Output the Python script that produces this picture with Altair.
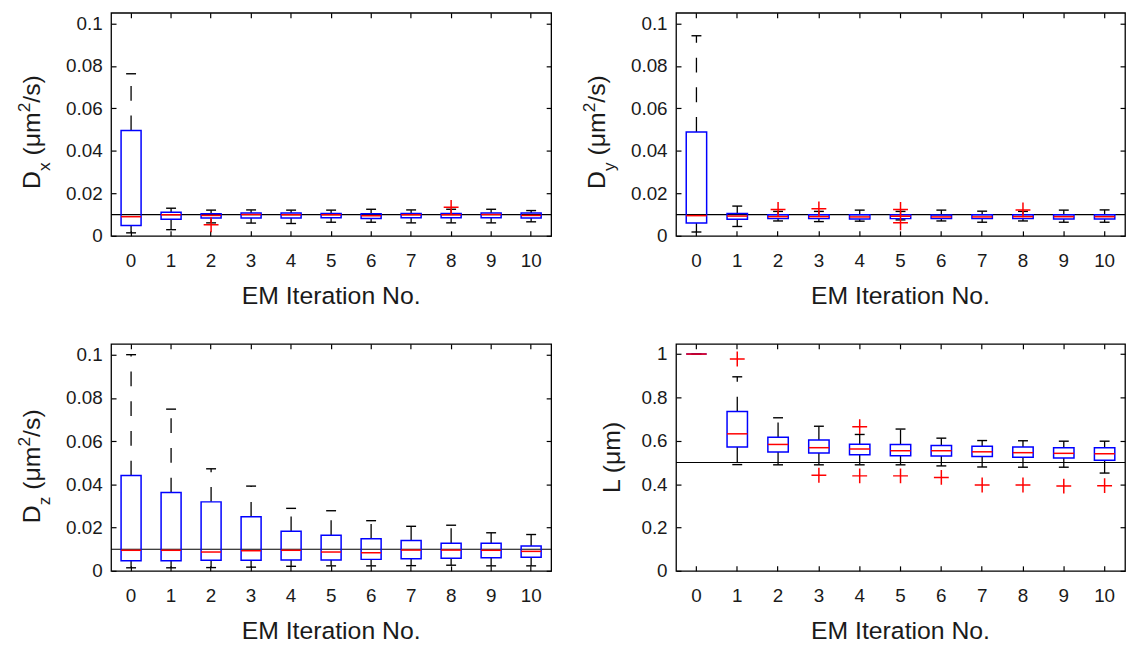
import altair as alt
import pandas as pd

# ---------------- data ----------------
iters = list(range(11))

dx_q1 = [0.0049, 0.0078, 0.0084, 0.0084, 0.0084, 0.0085, 0.0082, 0.0085, 0.0085, 0.0085, 0.0084]
dx_med = [0.0090, 0.0099, 0.0096, 0.0100, 0.0099, 0.0099, 0.0095, 0.0099, 0.0099, 0.0100, 0.0096]
dx_q3 = [0.0496, 0.0111, 0.0104, 0.0108, 0.0107, 0.0105, 0.0104, 0.0105, 0.0105, 0.0107, 0.0107]
dx_lo = [0.0014, 0.0029, 0.0061, 0.0060, 0.0058, 0.0064, 0.0064, 0.0061, 0.0061, 0.0061, 0.0066]
dx_hi = [0.0763, 0.0130, 0.0121, 0.0122, 0.0121, 0.0121, 0.0125, 0.0122, 0.0125, 0.0125, 0.0119]
dx_out_it = [2, 8]
dx_out_val = [0.0052, 0.0134]

dy_q1 = [0.0060, 0.0078, 0.0081, 0.0081, 0.0079, 0.0081, 0.0081, 0.0081, 0.0081, 0.0079, 0.0079]
dy_med = [0.0095, 0.0093, 0.0090, 0.0090, 0.0089, 0.0092, 0.0089, 0.0089, 0.0090, 0.0090, 0.0090]
dy_q3 = [0.0489, 0.0105, 0.0099, 0.0099, 0.0099, 0.0099, 0.0098, 0.0099, 0.0099, 0.0099, 0.0099]
dy_lo = [0.0018, 0.0044, 0.0070, 0.0067, 0.0069, 0.0075, 0.0070, 0.0064, 0.0070, 0.0064, 0.0064]
dy_hi = [0.0942, 0.0140, 0.0115, 0.0115, 0.0121, 0.0115, 0.0121, 0.0116, 0.0115, 0.0121, 0.0122]
dy_out_it = [2, 3, 5, 5, 8]
dy_out_val = [0.0124, 0.0127, 0.0124, 0.0061, 0.0122]

dz_q1 = [0.0047, 0.0047, 0.0049, 0.0049, 0.0050, 0.0050, 0.0053, 0.0056, 0.0058, 0.0061, 0.0063]
dz_med = [0.0095, 0.0095, 0.0087, 0.0093, 0.0095, 0.0087, 0.0084, 0.0096, 0.0096, 0.0095, 0.0090]
dz_q3 = [0.0441, 0.0362, 0.0319, 0.0250, 0.0183, 0.0165, 0.0148, 0.0140, 0.0128, 0.0128, 0.0115]
dz_lo = [0.0014, 0.0014, 0.0015, 0.0017, 0.0021, 0.0023, 0.0023, 0.0024, 0.0026, 0.0023, 0.0023]
dz_hi = [0.1000, 0.0748, 0.0472, 0.0392, 0.0289, 0.0278, 0.0232, 0.0206, 0.0211, 0.0176, 0.0168]
dz_out_it = []
dz_out_val = []

l_q1 = [1.0, 0.571, 0.548, 0.543, 0.536, 0.531, 0.530, 0.527, 0.524, 0.521, 0.510]
l_med = [1.0, 0.632, 0.583, 0.568, 0.562, 0.554, 0.554, 0.549, 0.545, 0.542, 0.540]
l_q3 = [1.0, 0.735, 0.616, 0.603, 0.584, 0.583, 0.578, 0.575, 0.571, 0.568, 0.568]
l_lo = [1.0, 0.490, 0.489, 0.489, 0.489, 0.489, 0.484, 0.479, 0.478, 0.478, 0.451]
l_hi = [1.0, 0.895, 0.706, 0.667, 0.629, 0.654, 0.612, 0.601, 0.600, 0.598, 0.598]
l_out_it = [1, 3, 4, 4, 5, 6, 7, 8, 9, 10]
l_out_val = [0.977, 0.441, 0.665, 0.438, 0.438, 0.431, 0.396, 0.396, 0.391, 0.393]

d_ticks = [0, 0.02, 0.04, 0.06, 0.08, 0.1]
l_ticks = [0, 0.2, 0.4, 0.6, 0.8, 1]
d_ref = 0.01
l_ref = 0.5
x_title = "EM Iteration No."

# ---------------- styling ----------------
FONT = "Liberation Sans"
TXT = "#1a1a1a"
BLUE = "#0000ff"
RED = "#ff0000"
BLACK = "#000000"
PLUS = "M-1,0L1,0M0,-1L0,1"
TF = 25      # title font
SF = 17.5    # sub/superscript font
LF = 19      # tick label font


def one_row():
    return alt.Data(values=[{"k": 0}])


def txt(text, x, y, size, angle=0, align="left"):
    kw = dict(text=text, font=FONT, fontSize=size, align=align,
              baseline="alphabetic", color=TXT)
    if angle:
        kw["angle"] = angle
    return alt.Chart(one_row()).mark_text(**kw).encode(
        x=alt.value(x), y=alt.value(y))


def d_title(sub, H):
    bx = -72
    y0 = 0.79 * H
    y1 = y0 - 0.722 * TF            # after "D"
    y2 = y1 - 0.5 * SF - 0.278 * TF  # after subscript + a space
    y3 = y2 - 1.743 * TF            # after "(μm"
    y4 = y3 - 0.556 * SF            # after superscript "2"
    return [
        txt("D", bx, y0, TF, 270),
        txt(sub, bx + 10, y1, SF, 270),
        txt("(\u03bcm", bx, y2, TF, 270),
        txt("2", bx - 10, y3, SF, 270),
        txt("/s)", bx, y4, TF, 270),
    ]


def panel(q1, med, q3, lo, hi, out_it, out_val, ref_val, ydom, yticks,
          W, H, title_layers):
    df = pd.DataFrame({"it": iters, "q1": q1, "med": med, "q3": q3,
                       "lo": lo, "hi": hi})
    xs = alt.Scale(domain=iters, paddingInner=0.5, paddingOuter=0.25)
    ys = alt.Scale(domain=ydom, nice=False, zero=False)
    box_w = W / 11 * 0.5

    lab_x = alt.Axis(orient="bottom", ticks=False, tickSize=0, domain=False,
                     labelPadding=16, labelAngle=0, title=None, grid=False,
                     labelFont=FONT, labelFontSize=LF, labelColor=TXT)
    lab_y = alt.Axis(orient="left", values=yticks, ticks=False, tickSize=0,
                     domain=False, labelPadding=9, format="~g", title=None,
                     grid=False, labelFont=FONT, labelFontSize=LF,
                     labelColor=TXT)

    def tick_axis(orient, values=None):
        kw = dict(orient=orient, offset=-5, tickSize=5, ticks=True,
                  labels=False, domain=False, title=None, grid=False,
                  tickColor=BLACK, tickWidth=1.2)
        if values is not None:
            kw["values"] = values
        return alt.Axis(**kw)

    def X(axis):
        return alt.X("it:O", scale=xs, axis=axis)

    def Y(field, axis=None):
        return alt.Y(field + ":Q", scale=ys, axis=axis)

    base = alt.Chart(df)
    ref = alt.Chart(pd.DataFrame({"ref": [ref_val]})).mark_rule(
        color=BLACK, strokeWidth=1.1).encode(y=Y("ref"))
    w_up = base.mark_rule(color=BLACK, strokeWidth=1.3, strokeDash=[15, 15]).encode(
        x=X(tick_axis("bottom")), y=Y("q3", tick_axis("left", yticks)), y2="hi:Q")
    w_dn = base.mark_rule(color=BLACK, strokeWidth=1.3, strokeDash=[15, 15]).encode(
        x=X(tick_axis("top")), y=Y("q1", tick_axis("right", yticks)), y2="lo:Q")
    cap_hi = base.mark_tick(color=BLACK, size=10, thickness=1.4, opacity=1).encode(
        x=X(None), y=Y("hi"))
    cap_lo = base.mark_tick(color=BLACK, size=10, thickness=1.4, opacity=1).encode(
        x=X(None), y=Y("lo"))
    box = base.mark_bar(fillOpacity=0, stroke=BLUE, strokeWidth=1.5).encode(
        x=X(lab_x), y=Y("q1", lab_y), y2="q3:Q")
    median = base.mark_tick(color=RED, size=box_w, thickness=1.5, opacity=1).encode(
        x=X(None), y=Y("med"))
    layers = [ref, w_up, w_dn, cap_hi, cap_lo, box, median]
    if out_it:
        odf = pd.DataFrame({"it": out_it, "val": out_val})
        layers.append(alt.Chart(odf).mark_point(
            shape=PLUS, filled=False, color=RED, size=225, strokeWidth=1.5,
            opacity=1).encode(x=X(None), y=Y("val")))
    layers.append(txt(x_title, W / 2, H + 69, TF, 0, "center"))
    layers += title_layers
    return alt.layer(*layers).resolve_axis(
        x="independent", y="independent").properties(width=W, height=H)


WL, WR = 444, 453
HT, HB = 225, 229

p_dx = panel(dx_q1, dx_med, dx_q3, dx_lo, dx_hi, dx_out_it, dx_out_val, d_ref,
             [0, 0.105], d_ticks, WL, HT, d_title("x", HT))
p_dy = panel(dy_q1, dy_med, dy_q3, dy_lo, dy_hi, dy_out_it, dy_out_val, d_ref,
             [0, 0.105], d_ticks, WR, HT, d_title("y", HT))
p_dz = panel(dz_q1, dz_med, dz_q3, dz_lo, dz_hi, dz_out_it, dz_out_val, d_ref,
             [0, 0.105], d_ticks, WL, HB, d_title("z", HB))
p_l = panel(l_q1, l_med, l_q3, l_lo, l_hi, l_out_it, l_out_val, l_ref,
            [0, 1.047], l_ticks, WR, HB,
            [txt("L (\u03bcm)", -57, HB / 2, TF, 270, "center")])

chart = alt.concat(p_dx, p_dy, p_dz, p_l, columns=2,
                   spacing={"row": 109, "column": 126},
                   bounds="flush", align="each").properties(
    padding={"left": 7, "top": 0, "right": 0, "bottom": 0}
).configure_view(stroke=BLACK, strokeWidth=1.3)

chart.save("out.html", embed_options={"renderer": "svg", "actions": False})
